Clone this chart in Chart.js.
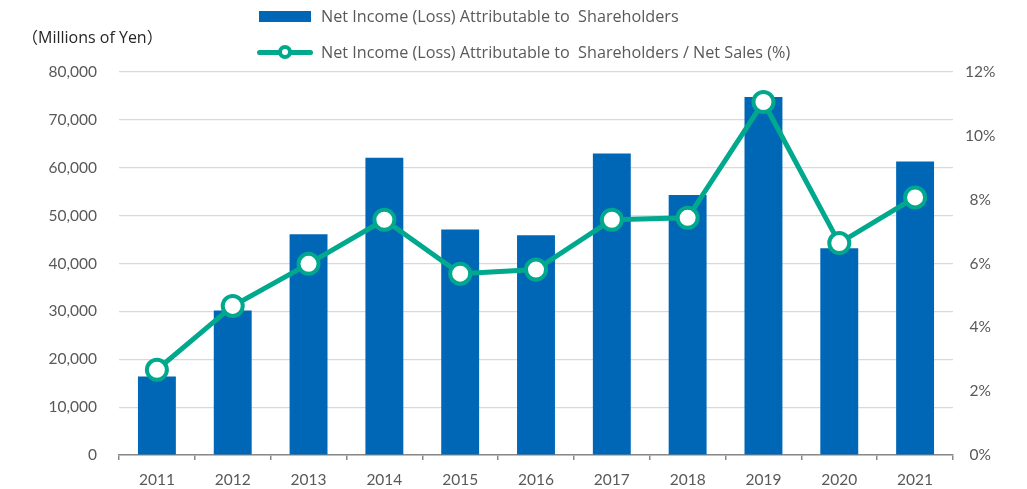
<!DOCTYPE html>
<html>
<head>
<meta charset="utf-8">
<script src="https://cdn.jsdelivr.net/npm/chart.js@4.4.1/dist/chart.umd.min.js"></script>
<style>
    body { margin: 0; background: #fff; }
    .wrap { position: relative; width: 1027px; height: 489px; font-family: "Open Sans", "Noto Sans CJK JP", sans-serif; }
    .unit { position: absolute; left: 22px; top: 24px; font-size: 16px; color: #262626; }
    .legend-item { position: absolute; left: 257px; height: 20px; display: flex; align-items: center; font-size: 16.2px; color: #595959; white-space: pre; }
    .swatch-bar { width: 52px; height: 11px; margin-left: 2px; margin-right: 10px; background: #0067B6; }
    .swatch-line { position: relative; width: 56px; height: 20px; margin-right: 8px; }
    .swatch-line .ln { position: absolute; left: 0; top: 7.5px; width: 56px; height: 5px; border-radius: 3px; background: #00A88E; }
    .swatch-line .dot { position: absolute; left: 21px; top: 3px; width: 6px; height: 6px; border: 4px solid #00A88E; border-radius: 50%; background: #fff; }
</style>
</head>
<body>
<div class="wrap">
    <canvas id="incomeChart" width="1027" height="489"></canvas>
    <div class="unit">（Millions of Yen）</div>
    <div class="legend-item" style="top: 6px;"><span class="swatch-bar"></span>Net Income (Loss) Attributable to  Shareholders</div>
    <div class="legend-item" style="top: 42px;"><span class="swatch-line"><span class="ln"></span><span class="dot"></span></span>Net Income (Loss) Attributable to  Shareholders / Net Sales (%)</div>
</div>
<script>
// Data
const years = ['2011', '2012', '2013', '2014', '2015', '2016', '2017', '2018', '2019', '2020', '2021'];
const netIncome = [16400, 30200, 46100, 62100, 47100, 45900, 63000, 54300, 74800, 43200, 61300];
const incomeRatio = [2.67, 4.67, 5.99, 7.37, 5.68, 5.81, 7.37, 7.43, 11.06, 6.64, 8.07];
const leftTicks = [0, 80000, 10000];   // min, max, step
const rightTicks = [0, 12, 2];

const BAR_COLOR = '#0067B6';
const LINE_COLOR = '#00A88E';
const TEXT_COLOR = '#595959';

Chart.defaults.font.family = 'Lato, "Noto Sans", sans-serif';
Chart.defaults.font.size = 15.5;
Chart.defaults.color = TEXT_COLOR;

new Chart(document.getElementById('incomeChart'), {
    data: {
        labels: years,
        datasets: [
            {
                type: 'line',
                label: 'Net Income (Loss) Attributable to  Shareholders / Net Sales (%)',
                data: incomeRatio,
                yAxisID: 'y1',
                order: 0,
                borderColor: LINE_COLOR,
                borderWidth: 5,
                pointRadius: 10,
                pointBorderWidth: 4,
                pointBackgroundColor: '#fff',
                pointBorderColor: LINE_COLOR,
                tension: 0
            },
            {
                type: 'bar',
                label: 'Net Income (Loss) Attributable to  Shareholders',
                data: netIncome,
                yAxisID: 'y',
                order: 1,
                backgroundColor: BAR_COLOR,
                barPercentage: 0.5,
                categoryPercentage: 1
            }
        ]
    },
    options: {
        responsive: false,
        animation: false,
        layout: { padding: { top: 72, left: 0, right: 0, bottom: 0 } },
        plugins: {
            legend: { display: false },
            tooltip: { enabled: false }
        },
        scales: {
            x: {
                grid: { drawOnChartArea: false, color: '#898989', lineWidth: 1.5, tickLength: 5 },
                border: { color: '#898989', width: 1.5 },
                ticks: { padding: 11 },
                afterFit: (scale) => { scale.height = 34; }
            },
            y: {
                position: 'left',
                min: leftTicks[0],
                max: leftTicks[1],
                ticks: {
                    stepSize: leftTicks[2],
                    padding: 22,
                    callback: (v) => v.toLocaleString('en-US')
                },
                grid: { color: '#D9D9D9', lineWidth: 1.2, drawTicks: false },
                border: { display: false },
                afterFit: (scale) => { scale.width = 119; }
            },
            y1: {
                position: 'right',
                min: rightTicks[0],
                max: rightTicks[1],
                ticks: {
                    stepSize: rightTicks[2],
                    padding: 12,
                    crossAlign: 'center',
                    callback: (v) => v + '%'
                },
                grid: { display: false, drawTicks: false },
                border: { display: false },
                afterFit: (scale) => { scale.width = 74; }
            }
        }
    }
});
</script>
</body>
</html>
